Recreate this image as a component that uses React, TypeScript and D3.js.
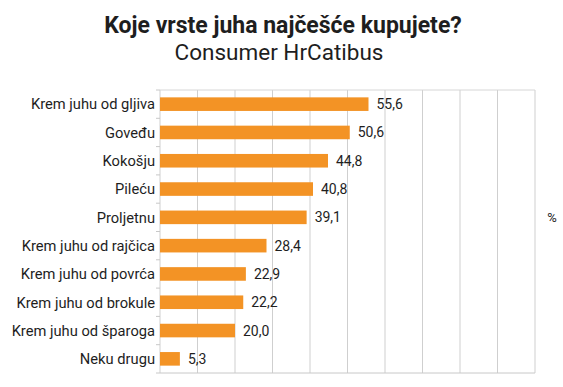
import * as d3 from 'd3';

// chart data
const categories = [
  'Krem juhu od gljiva',
  'Goveđu',
  'Kokošju',
  'Pileću',
  'Proljetnu',
  'Krem juhu od rajčica',
  'Krem juhu od povrća',
  'Krem juhu od brokule',
  'Krem juhu od šparoga',
  'Neku drugu',
];
const values = [55.6, 50.6, 44.8, 40.8, 39.1, 28.4, 22.9, 22.2, 20.0, 5.3];
const gridTicks = [0, 10, 20, 30, 40, 50, 60, 70, 80, 90, 100];

const title = 'Koje vrste juha najčešće kupujete?';
const subtitle = 'Consumer HrCatibus';
const unit = '%';

export default function App() {
  const width = 563;
  const height = 387;
  const margin = { top: 90, right: 28, bottom: 14, left: 160 };
  const font = 'Roboto, sans-serif';

  const x = d3
    .scaleLinear()
    .domain([0, 100])
    .range([margin.left, width - margin.right]);
  const y = d3
    .scaleBand()
    .domain(categories)
    .range([margin.top, height - margin.bottom])
    .paddingInner(0.52)
    .paddingOuter(0.26);

  const fmt = (v: number) => d3.format('.1f')(v).replace('.', ',');
  const step = y.step();
  const boundaries = d3.range(categories.length + 1).map((i) => margin.top + i * step);
  const plotBottom = height - margin.bottom;

  return (
    <svg
      width={width}
      height={height}
      style={{ position: 'absolute', left: 0, top: 0, background: '#fff' }}
    >
      <text x={283} y={33} textAnchor='middle' fontFamily={font} fontWeight={700} fontSize={23} fill='#1e1e1e'>
        {title}
      </text>
      <text x={279} y={60} textAnchor='middle' fontFamily={font} fontSize={22.5} fill='#1e1e1e'>
        {subtitle}
      </text>

      {/* gridlines */}
      {gridTicks.map((t) => (
        <line key={t} x1={x(t)} x2={x(t)} y1={margin.top} y2={plotBottom} stroke='#cfcfcf' strokeWidth={1} />
      ))}
      <line x1={x(0)} x2={x(100)} y1={margin.top} y2={margin.top} stroke='#d6d6d6' />
      <line x1={x(0)} x2={x(100)} y1={plotBottom} y2={plotBottom} stroke='#c8c8c8' />

      {/* left axis ticks */}
      {boundaries.map((b, i) => (
        <line key={i} x1={x(0) - 4} x2={x(0)} y1={b} y2={b} stroke='#c8c8c8' />
      ))}

      {/* bars */}
      {categories.map((c, i) => (
        <rect
          key={c}
          x={x(0)}
          y={y(c)}
          width={x(values[i]) - x(0)}
          height={y.bandwidth()}
          fill='#f39325'
        />
      ))}

      {/* category labels */}
      {categories.map((c) => (
        <text
          key={c}
          x={x(0) - 5}
          y={(y(c) ?? 0) + y.bandwidth() / 2}
          dy='0.36em'
          textAnchor='end'
          fontFamily={font}
          fontSize={14.7}
          fill='#1e1e1e'
        >
          {c}
        </text>
      ))}

      {/* value labels */}
      {categories.map((c, i) => (
        <text
          key={c}
          x={x(values[i]) + 8}
          y={(y(c) ?? 0) + y.bandwidth() / 2}
          dy='0.36em'
          fontFamily={font}
          fontSize={14}
          fill='#1e1e1e'
        >
          {fmt(values[i])}
        </text>
      ))}

      <text x={552} y={217} dy='0.36em' textAnchor='middle' fontFamily={font} fontSize={13} fill='#1e1e1e'>
        {unit}
      </text>
    </svg>
  );
}
